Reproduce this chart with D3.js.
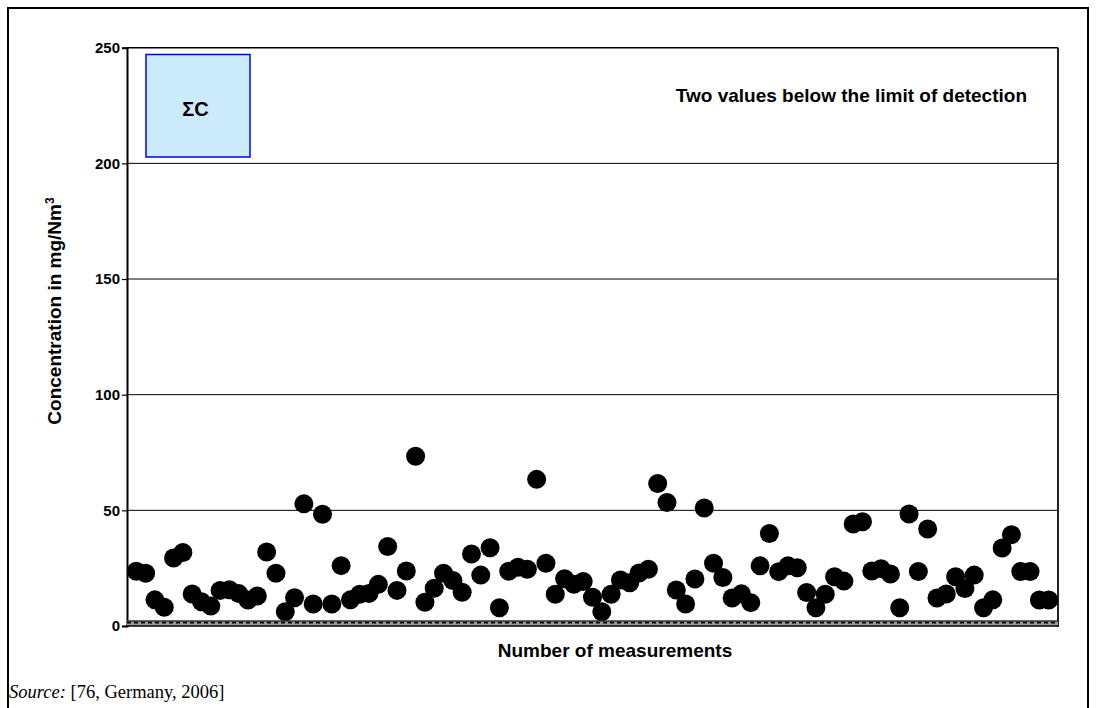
<!DOCTYPE html>
<html>
<head>
<meta charset="utf-8">
<script src="https://cdn.jsdelivr.net/npm/d3@7"></script>
<style>
  html, body { margin: 0; padding: 0; background: #fff; }
  svg { display: block; }
</style>
</head>
<body>
<svg id="chart" width="1097" height="708"></svg>
<script>
// ---- data ----
const concentrations = [
  23.7, 22.8, 11.3, 8.1, 29.4, 31.8, 13.8, 10.5, 8.6, 15.4,
  15.7, 14.0, 11.2, 13.0, 32.0, 22.8, 6.2, 12.2, 52.8, 9.5,
  48.3, 9.5, 26.1, 11.3, 13.7, 14.1, 18.0, 34.4, 15.4, 23.8,
  73.4, 10.3, 16.3, 22.8, 19.7, 14.6, 31.1, 22.0, 33.8, 7.9,
  23.7, 25.4, 24.5, 63.4, 27.1, 13.7, 20.4, 18.0, 19.2, 12.4,
  6.2, 13.7, 19.9, 18.7, 22.9, 24.5, 61.6, 53.4, 15.6, 9.5,
  20.3, 51.0, 27.1, 21.0, 12.1, 13.9, 10.1, 26.0, 40.0, 23.5,
  26.0, 25.2, 14.5, 7.9, 13.7, 21.3, 19.4, 44.1, 45.1, 23.8,
  24.8, 22.5, 7.9, 48.4, 23.6, 41.9, 12.1, 13.8, 21.3, 16.2,
  22.0, 7.9, 11.3, 33.7, 39.5, 23.6, 23.6, 11.2, 11.2
];
const measurementNumbers = concentrations.map((_, i) => i + 1);
const yTicks = [0, 50, 100, 150, 200, 250];
const yDomain = [0, 250];
const xDomain = [0, 100];
const yTitle = "Concentration in mg/Nm";
const yTitleSup = "3";
const xTitle = "Number of measurements";
const note = "Two values below the limit of detection";
const legendLabel = "ΣC";
const sourceItalic = "Source:";
const sourceText = " [76, Germany, 2006]";

// ---- layout ----
const L = 127, R = 1058, T = 47.7, B = 626;
const svg = d3.select("#chart");
const x = d3.scaleLinear().domain(xDomain).range([L, R]);
const y = d3.scaleLinear().domain(yDomain).range([B, T]);
const sans = "'Liberation Sans', Arial, sans-serif";
const serif = "'Liberation Serif', 'Times New Roman', serif";

// outer frame (open at bottom)
svg.append("path")
  .attr("d", "M8,708 L8,8 L1088,8 L1088,708")
  .attr("fill", "none").attr("stroke", "#000").attr("stroke-width", 2);

// gridlines
svg.append("g").selectAll("line")
  .data(yTicks.filter(t => t > 0 && t < 250))
  .join("line")
  .attr("x1", L).attr("x2", R)
  .attr("y1", d => y(d)).attr("y2", d => y(d))
  .attr("stroke", "#000").attr("stroke-width", 1);

// plot border top and right
svg.append("line").attr("x1", L).attr("x2", R).attr("y1", y(250)).attr("y2", y(250))
  .attr("stroke", "#000").attr("stroke-width", 1.5);
svg.append("line").attr("x1", R).attr("x2", R).attr("y1", y(250)).attr("y2", B + 1)
  .attr("stroke", "#222").attr("stroke-width", 2);

// y axis
const yAxis = d3.axisLeft(y).tickValues(yTicks).tickSize(5).tickPadding(2);
const gy = svg.append("g").attr("transform", `translate(${L},0)`).call(yAxis)
  .attr("font-family", sans).attr("font-size", 15).attr("font-weight", "bold");
gy.select(".domain").attr("stroke", "#000").attr("stroke-width", 2);
gy.selectAll(".tick line").attr("stroke", "#000").attr("stroke-width", 1.2);
gy.selectAll(".tick text")
  .style("font-family", sans).style("font-weight", "700").style("font-size", "15px")
  .attr("fill", "#000");

// points
svg.append("g").selectAll("circle")
  .data(concentrations)
  .join("circle")
  .attr("cx", (d, i) => x(measurementNumbers[i]))
  .attr("cy", d => y(d))
  .attr("r", 9.5)
  .attr("fill", "#000");

// bottom band at zero
const band = svg.append("g");
band.append("rect").attr("x", L).attr("y", B - 5.5).attr("width", R - L).attr("height", 5.5)
  .attr("fill", "#9a9a9a");
band.append("line").attr("x1", L).attr("x2", R).attr("y1", B - 5).attr("y2", B - 5)
  .attr("stroke", "#000").attr("stroke-width", 1);
band.append("line").attr("x1", L).attr("x2", R).attr("y1", B - 3.3).attr("y2", B - 3.3)
  .attr("stroke", "#000").attr("stroke-width", 1.8).attr("stroke-dasharray", "4,3");
band.append("line").attr("x1", L - 1).attr("x2", R).attr("y1", B).attr("y2", B)
  .attr("stroke", "#000").attr("stroke-width", 1.5);

// legend box
svg.append("rect").attr("x", 146).attr("y", 54.5).attr("width", 104).attr("height", 102.5)
  .attr("fill", "#CCEBFD").attr("stroke", "#0000F0").attr("stroke-width", 1.5);
svg.append("text").attr("x", 195.5).attr("y", 116)
  .attr("text-anchor", "middle").attr("font-family", sans).attr("font-weight", "bold")
  .attr("font-size", 20).attr("fill", "#000").text(legendLabel);

// note
svg.append("text").attr("x", 1027).attr("y", 101.5)
  .attr("text-anchor", "end").attr("font-family", sans).attr("font-weight", "bold")
  .attr("font-size", 19).attr("fill", "#000").text(note);

// y title
const yt = svg.append("text")
  .attr("transform", "translate(61,311) rotate(-90)")
  .attr("text-anchor", "middle").attr("font-family", sans).attr("font-weight", "bold")
  .attr("font-size", 19).attr("fill", "#000");
yt.append("tspan").text(yTitle);
yt.append("tspan").attr("font-size", 12).attr("dy", -7).text(yTitleSup);

// x title
svg.append("text").attr("x", 615).attr("y", 657)
  .attr("text-anchor", "middle").attr("font-family", sans).attr("font-weight", "bold")
  .attr("font-size", 19).attr("fill", "#000").text(xTitle);

// source
const src = svg.append("text").attr("x", 9).attr("y", 698)
  .attr("font-family", serif).attr("font-size", 18.5).attr("fill", "#000");
src.append("tspan").attr("font-style", "italic").text(sourceItalic);
src.append("tspan").text(sourceText);
</script>
</body>
</html>
